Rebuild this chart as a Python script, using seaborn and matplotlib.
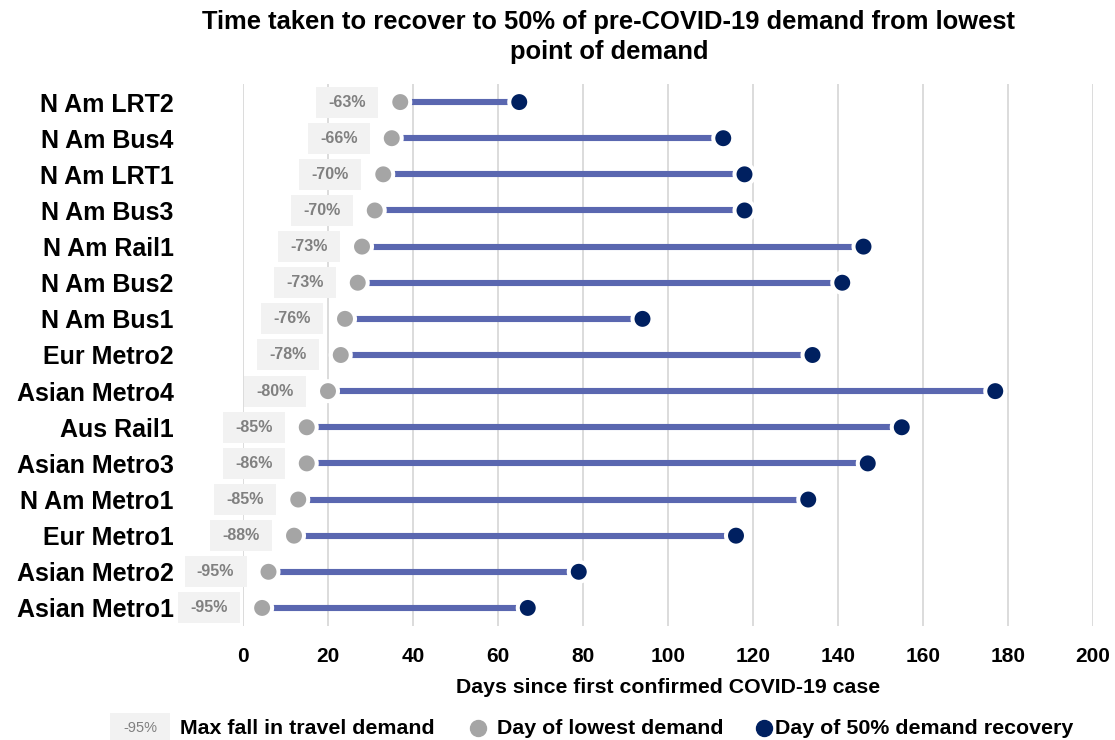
import numpy as np
import pandas as pd
import matplotlib
matplotlib.use("Agg")
import matplotlib.pyplot as plt
import matplotlib.transforms as mtransforms
from matplotlib.patches import Rectangle
from matplotlib.lines import Line2D
import seaborn as sns

# Systems, listed top to bottom
routes = ["N Am LRT2", "N Am Bus4", "N Am LRT1", "N Am Bus3", "N Am Rail1",
          "N Am Bus2", "N Am Bus1", "Eur Metro2", "Asian Metro4", "Aus Rail1",
          "Asian Metro3", "N Am Metro1", "Eur Metro1", "Asian Metro2", "Asian Metro1"]
max_fall = [-63, -66, -70, -70, -73, -73, -76, -78, -80, -85, -86, -85, -88, -95, -95]
day_lowest = [37, 35, 33, 31, 28, 27, 24, 23, 20, 15, 15, 13, 12, 6, 4.5]
day_recovery = [65, 113, 118, 118, 146, 141, 94, 134, 177, 155, 147, 133, 116, 79, 67]
x_ticks = list(range(0, 201, 20))

GRAY_DOT = "#a5a5a5"
NAVY = "#002060"
LINE = "#5a67b0"
BOX = "#f2f2f2"
BOX_TEXT = "#808080"

sns.set_theme(style="white")
plt.rcParams["font.family"] = ["Liberation Sans", "DejaVu Sans"]

W, H = 1115, 740
fig = plt.figure(figsize=(W / 100, H / 100), dpi=100)
ax = fig.add_axes([243 / W, 1 - 626 / H, 850 / W, 542 / H])

pos = np.arange(len(routes))
ax.set_xlim(0, 200)
ax.set_ylim(len(routes) - 0.5, -0.5)

# Vertical gridlines
for t in x_ticks:
    ax.axvline(t, color="#d9d9d9", lw=1.3, zorder=0)

# Connecting bars between lowest point and recovery
ax.hlines(pos, day_lowest, day_recovery, color=LINE, lw=4.4, zorder=2)

long = pd.DataFrame({
    "day": day_lowest + day_recovery,
    "pos": list(pos) + list(pos),
    "kind": ["Day of lowest demand"] * len(routes) + ["Day of 50% demand recovery"] * len(routes),
})
sns.scatterplot(data=long, x="day", y="pos", hue="kind",
                palette={"Day of lowest demand": GRAY_DOT,
                         "Day of 50% demand recovery": NAVY},
                s=207, edgecolor="white", linewidth=2.9, legend=False,
                zorder=3, ax=ax, clip_on=False)

# Max-fall labels in grey boxes, placed left of the lowest-demand dot
bw, bh, off = 62 / 100, 31 / 100, -53 / 100  # inches
for x, y, v in zip(day_lowest, pos, max_fall):
    tr = fig.dpi_scale_trans + mtransforms.ScaledTranslation(x, y, ax.transData)
    ax.add_patch(Rectangle((off - bw / 2, -bh / 2), bw, bh, transform=tr,
                           facecolor=BOX, edgecolor="none", clip_on=False, zorder=1))
    ax.text(off, 0, f"{v}%", transform=tr, ha="center", va="center",
            fontsize=11.5, fontweight="bold", color=BOX_TEXT, zorder=2)

ax.set_xticks(x_ticks)
ax.set_yticks(pos)
ax.set_yticklabels(routes)
ax.tick_params(axis="y", length=0, pad=50, labelsize=18)
ax.tick_params(axis="x", length=0, pad=15, labelsize=15)
for lab in ax.get_xticklabels() + ax.get_yticklabels():
    lab.set_fontweight("bold")
    lab.set_color("black")
ax.set_xlabel("Days since first confirmed COVID-19 case", fontsize=15.3,
              fontweight="bold", color="black", labelpad=9)
ax.set_ylabel("")
for s in ax.spines.values():
    s.set_visible(False)

fig.text(609 / W, 1 - 37 / H,
         "Time taken to recover to 50% of pre-COVID-19 demand from lowest\npoint of demand",
         ha="center", va="center", fontsize=18.4, fontweight="bold",
         color="black", linespacing=1.3)

# Legend row along the bottom
ly = 1 - 728 / H
fig.add_artist(Rectangle((110 / W, ly - 15 / H), 60 / W, 30 / H,
                         transform=fig.transFigure, facecolor=BOX, edgecolor="none"))
fig.text(140 / W, ly, "-95%", ha="center", va="center", fontsize=10.5, color=BOX_TEXT)
fig.text(180 / W, ly, "Max fall in travel demand", ha="left", va="center",
         fontsize=15.4, fontweight="bold", color="black")
fig.add_artist(Line2D([478 / W], [ly], marker="o", markersize=11.5, color=GRAY_DOT,
                      transform=fig.transFigure, linestyle="none"))
fig.text(497 / W, ly, "Day of lowest demand", ha="left", va="center",
         fontsize=15.4, fontweight="bold", color="black")
fig.add_artist(Line2D([764 / W], [ly], marker="o", markersize=11.5, color=NAVY,
                      transform=fig.transFigure, linestyle="none"))
fig.text(775 / W, ly, "Day of 50% demand recovery", ha="left", va="center",
         fontsize=15.4, fontweight="bold", color="black")

fig.savefig("out.png", dpi=100, facecolor="white")
